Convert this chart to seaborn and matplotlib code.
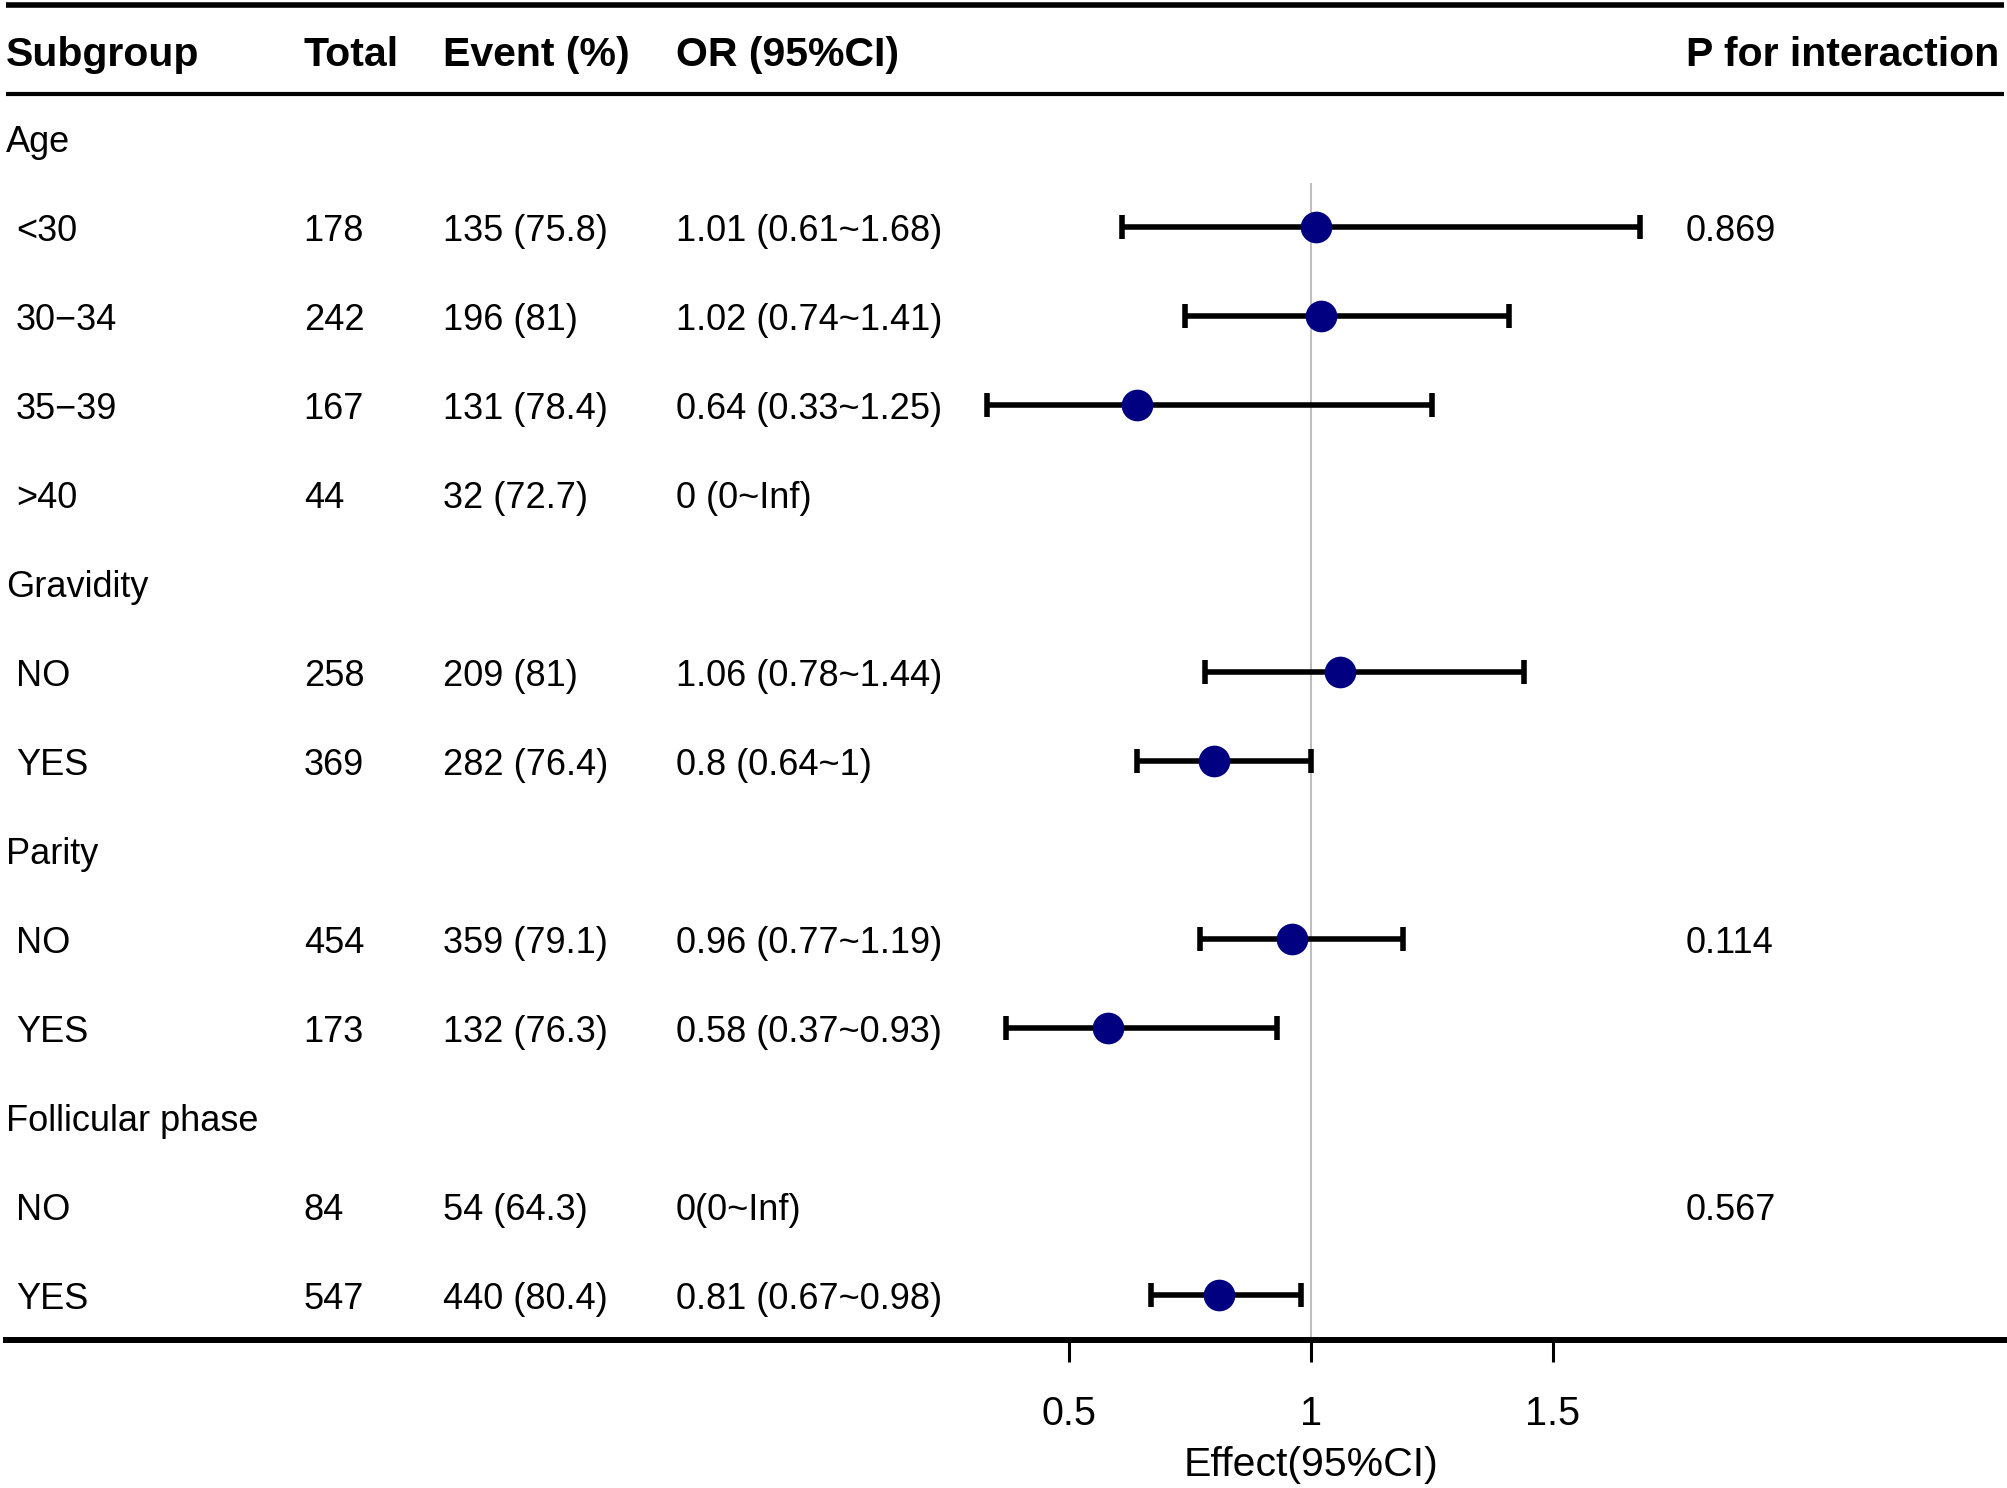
import numpy as np
import pandas as pd
import matplotlib
matplotlib.use("Agg")
import matplotlib.pyplot as plt
import seaborn as sns

# ──────────────────────────────────────────────
# Table data
# ──────────────────────────────────────────────
labels = ["Age", "<30", "30\u221234", "35\u221239", ">40",
          "Gravidity", "NO", "YES",
          "Parity", "NO", "YES",
          "Follicular phase", "NO", "YES"]
is_group = [True, False, False, False, False,
            True, False, False,
            True, False, False,
            True, False, False]
totals = ["", "178", "242", "167", "44", "", "258", "369", "", "454", "173", "", "84", "547"]
events = ["", "135 (75.8)", "196 (81)", "131 (78.4)", "32 (72.7)",
          "", "209 (81)", "282 (76.4)",
          "", "359 (79.1)", "132 (76.3)",
          "", "54 (64.3)", "440 (80.4)"]
or_text = ["", "1.01 (0.61~1.68)", "1.02 (0.74~1.41)", "0.64 (0.33~1.25)", "0 (0~Inf)",
           "", "1.06 (0.78~1.44)", "0.8 (0.64~1)",
           "", "0.96 (0.77~1.19)", "0.58 (0.37~0.93)",
           "", "0(0~Inf)", "0.81 (0.67~0.98)"]
p_inter = ["", "0.869", "", "", "", "", "", "", "", "0.114", "", "", "0.567", ""]

or_est = [np.nan, 1.01, 1.02, 0.64, np.nan, np.nan, 1.06, 0.80, np.nan, 0.96, 0.58, np.nan, np.nan, 0.81]
or_low = [np.nan, 0.61, 0.74, 0.33, np.nan, np.nan, 0.78, 0.64, np.nan, 0.77, 0.37, np.nan, np.nan, 0.67]
or_high = [np.nan, 1.68, 1.41, 1.25, np.nan, np.nan, 1.44, 1.00, np.nan, 1.19, 0.93, np.nan, np.nan, 0.98]

headers = ["Subgroup", "Total", "Event (%)", "OR (95%CI)", "P for interaction"]
x_ticks = [0.5, 1, 1.5]

df = pd.DataFrame({"row": np.arange(len(labels)), "est": or_est, "low": or_low, "high": or_high})
pts = df.dropna()

# ──────────────────────────────────────────────
# Figure
# ──────────────────────────────────────────────
sns.set_theme(style="white")
plt.rcParams["font.family"] = ["Liberation Sans", "DejaVu Sans"]
plt.rcParams["text.color"] = "black"
plt.rcParams["xtick.color"] = "black"

W, H = 2008, 1488
left_px, right_px = 6, 2004
bottom_px = 1339.5
px_per_unit = 484.0
one_px = 1311.0

fig = plt.figure(figsize=(W / 100, H / 100), dpi=100)
ax = fig.add_axes([left_px / W, (H - bottom_px) / H, (right_px - left_px) / W, bottom_px / H])
ax.set_xlim(1 + (left_px - one_px) / px_per_unit, 1 + (right_px - one_px) / px_per_unit)
ax.set_ylim(13.5, -1.554)

# reference line
ax.vlines(1, 0.5, 13.5, color="#bebebe", lw=1.5, zorder=1)

# CIs and points
ax.errorbar(pts["est"], pts["row"], xerr=[pts["est"] - pts["low"], pts["high"] - pts["est"]],
            fmt="none", ecolor="black", elinewidth=4, capsize=8.3, capthick=4, zorder=2)
sns.scatterplot(data=pts, x="est", y="row", ax=ax, color="#000080", s=520,
                linewidth=0, zorder=3, legend=False)

# table lines
ax.axhline(-1.5, color="black", lw=4)
ax.axhline(-0.5, color="black", lw=3)

# columns (axes-fraction x)
col_x = [0.0, 0.149, 0.2187, 0.3353, 0.8408]
indent_x = 0.005
dy = 0.045  # small nudge so text sits on the row centre
tr = ax.get_yaxis_transform()
for cx, h in zip(col_x, headers):
    ax.text(cx, -0.98 + dy, h, transform=tr, fontsize=29.5, fontweight="bold", ha="left", va="center")

for i in range(len(labels)):
    lx = col_x[0] if is_group[i] else indent_x
    ax.text(lx, i + dy, labels[i], transform=tr, fontsize=26, ha="left", va="center")
    for cx, col in zip(col_x[1:], [totals, events, or_text, p_inter]):
        if col[i]:
            ax.text(cx, i + dy, col[i], transform=tr, fontsize=26, ha="left", va="center")

# axis
for s in ["top", "left", "right"]:
    ax.spines[s].set_visible(False)
ax.spines["bottom"].set_linewidth(4.3)
ax.spines["bottom"].set_color("black")
ax.set_yticks([])
ax.set_xticks(x_ticks)
ax.set_xticklabels(["0.5", "1", "1.5"])
ax.tick_params(axis="x", bottom=True, length=15.8, width=2.2, color="black", direction="out",
               pad=24.5, labelsize=28.5, labelcolor="black")
ax.set_xlabel("")
ax.set_ylabel("")
ax.text(1, -(1476 - bottom_px) / bottom_px, "Effect(95%CI)", transform=ax.get_xaxis_transform(),
        fontsize=29.5, ha="center", va="baseline")

fig.savefig("out.png", dpi=100)
